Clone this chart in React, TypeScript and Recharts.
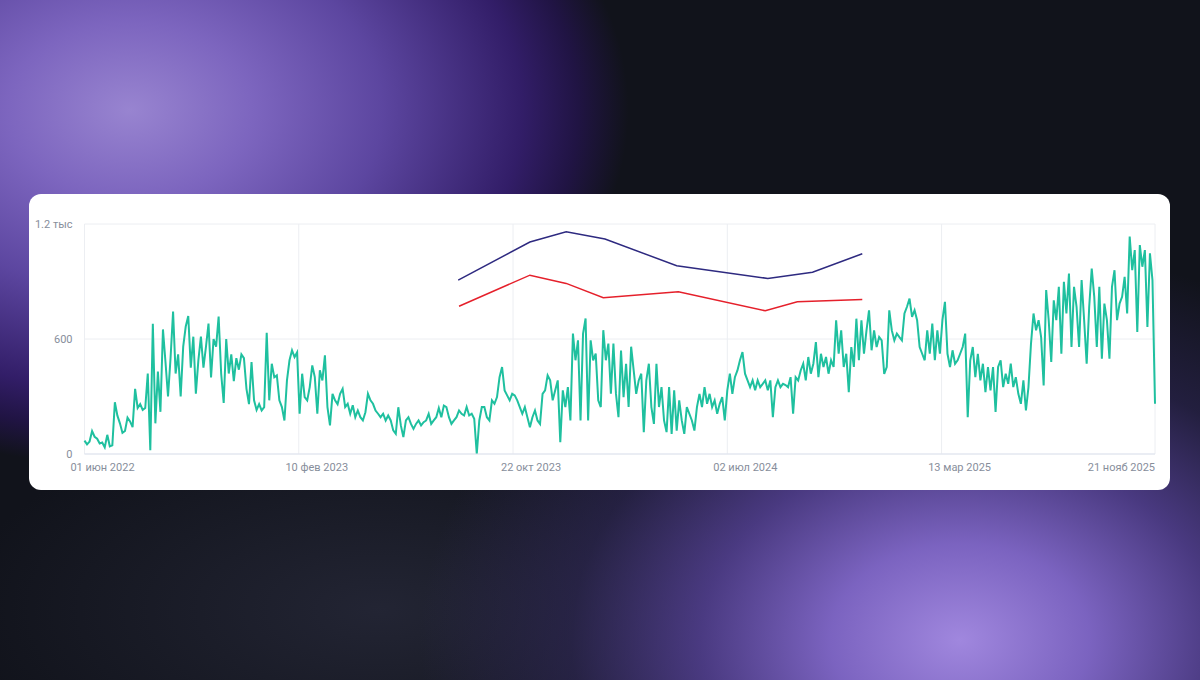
import React from 'react'
import { LineChart, Line, XAxis, YAxis, CartesianGrid } from 'recharts'

// one value every 3 days, starting 01 июн 2022
const STEP_DAYS = 3

const summer2022 = [
  70, 50, 65, 120, 90, 80, 55, 60, 35, 100,
  40, 45, 270, 200, 160, 110, 120, 190, 170, 140,
  340, 240, 260, 230, 240, 420, 20, 680, 160, 430,
  220, 650, 480, 300, 500, 743, 420, 520, 300, 560,
  665, 720, 450, 612, 315, 490, 612, 450, 560, 680,
  400, 600, 560, 717, 420, 266, 600, 420, 520, 380,
  500, 440, 520, 500, 340, 260, 480, 280, 230, 260,
]

const winter2023 = [
  227, 245, 632, 280, 471, 400, 410, 280, 245, 175,
  384, 489, 541, 506, 530, 210, 419, 297, 280, 349,
  462, 401, 210, 437, 384, 515, 245, 149, 314, 280,
  260, 314, 340, 245, 262, 210, 254, 192, 227, 192,
  175, 218, 314, 280, 262, 227, 210, 192, 210, 175,
  201, 175, 123, 105, 244, 149, 88, 175, 192, 157,
  131, 157, 175, 149, 166, 175, 210, 157, 175,
]

const autumn2023 = [
  192, 240, 192, 253, 245, 192, 157, 175, 192, 227,
  210, 201, 245, 201, 210, 184, 0, 175, 245, 245,
  192, 175, 280, 262, 297, 401, 454, 332, 306, 280,
  314, 306, 280, 245, 210, 245, 192, 140, 192, 227,
  175, 157, 314, 332, 410, 384, 280, 332, 384, 61,
  332, 245, 349, 175, 628, 489, 593, 175, 628, 707,
  175, 593, 489, 524, 280, 245, 646, 489, 576,
]

const spring2024 = [
  315, 576, 315, 192, 540, 297, 471, 245, 560, 437,
  314, 384, 419, 114, 384, 471, 245, 157, 471, 245,
  349, 175, 114, 349, 105, 332, 122, 280, 175, 105,
  245, 210, 175, 122, 245, 314, 245, 349, 262, 314,
  245, 280, 210, 262, 297, 175, 332, 419, 314, 401,
  436, 489, 532, 419, 384, 349, 384, 332, 384, 349,
  366, 384, 332, 384, 192, 349, 384, 349, 366, 360,
]

const autumn2024 = [
  349, 401, 210, 401, 384, 436, 471, 384, 506, 419,
  471, 584, 401, 523, 454, 506, 419, 489, 454, 698,
  523, 645, 454, 523, 323, 558, 454, 706, 489, 698,
  523, 645, 750, 541, 645, 558, 610, 593, 418, 454,
  750, 645, 593, 628, 610, 593, 733, 768, 811, 715,
  750, 698, 558, 523, 489, 645, 523, 680, 489, 645,
  523, 698, 794, 523, 454, 541, 471, 489,
]

const year2025 = [
  523, 558, 628, 192, 489, 558, 401, 523, 384, 471,
  323, 454, 332, 454, 219, 454, 489, 349, 419, 366,
  471, 349, 401, 314, 262, 384, 227, 349, 576, 733,
  645, 698, 610, 358, 855, 698, 480, 802, 698, 872,
  523, 898, 733, 941, 558, 872, 768, 558, 907, 698,
  471, 768, 968, 820, 558, 872, 497, 785, 698, 497,
  872, 959, 698, 785, 820, 924, 733, 1134, 959, 1064,
  637, 1090, 977, 1064, 663, 1047, 907, 262,
]

const navyDays = [443, 528, 571, 617, 702, 810, 863, 922]
const navyValues = [907, 1106, 1160, 1122, 982, 916, 948, 1045]

const redDays = [444, 528, 571, 615, 704, 807, 845, 922]
const redValues = [771, 933, 890, 815, 846, 747, 794, 806]

const tickDays = [0, 254, 508, 762, 1016, 1269]
const tickLabels = ['01 июн 2022', '10 фев 2023', '22 окт 2023', '02 июл 2024', '13 мар 2025', '21 нояб 2025']
const yTicks = [0, 600, 1200]

const mainValues = [...summer2022, ...winter2023, ...autumn2023, ...spring2024, ...autumn2024, ...year2025]
const mainData = mainValues.map((v, i) => ({ day: i * STEP_DAYS, value: v }))
const navyData = navyDays.map((d, i) => ({ day: d, navy: navyValues[i] }))
const redData = redDays.map((d, i) => ({ day: d, red: redValues[i] }))

const labelColor = '#878e9b'
const font = 'Roboto, "Noto Sans", sans-serif'

function XTick(props: any) {
  const { x, y, payload } = props
  const idx = tickDays.indexOf(payload.value)
  const last = idx === tickDays.length - 1
  return (
    <text
      x={last ? x : x + 18}
      y={y + 17}
      textAnchor={last ? 'end' : 'middle'}
      fill={labelColor}
      fontSize={11}
      fontFamily={font}
    >
      {tickLabels[idx]}
    </text>
  )
}

function YTick(props: any) {
  const { x, y, payload } = props
  const v = payload.value
  return (
    <text x={x} y={y} dy={4} textAnchor="end" fill={labelColor} fontSize={11} fontFamily={font}>
      {v >= 1000 ? `${v / 1000} тыс` : v}
    </text>
  )
}

// purple glows of the backdrop
const background = [
  'radial-gradient(ellipse 560px 400px at 130px 110px, rgba(152,132,208,1) 0%, rgba(128,104,196,0.97) 22%, rgba(98,74,170,0.93) 45%, rgba(52,30,108,0.95) 70%, rgba(34,20,72,0.9) 80%, rgba(18,20,28,0) 89%)',
  'radial-gradient(ellipse 540px 400px at 960px 640px, rgba(160,135,222,1) 0%, rgba(132,106,206,0.92) 24%, rgba(92,70,162,0.75) 48%, rgba(52,42,98,0.5) 72%, rgba(18,20,28,0) 100%)',
  'radial-gradient(ellipse 420px 200px at 380px 610px, rgba(42,44,62,0.7) 0%, rgba(18,20,28,0) 100%)',
  '#11131b',
].join(', ')

export default function App() {
  return (
    <div style={{ position: 'absolute', left: 0, top: 0, width: 1200, height: 680, background, overflow: 'hidden' }}>
      <div
        style={{
          position: 'absolute',
          left: 29,
          top: 194,
          width: 1141,
          height: 296,
          background: '#ffffff',
          borderRadius: 12,
          overflow: 'hidden',
        }}
      >
        <LineChart width={1141} height={296} data={mainData} margin={{ top: 30, right: 15, bottom: 6, left: 0 }}>
          <CartesianGrid stroke="#eceef2" />
          <XAxis
            dataKey="day"
            type="number"
            domain={[0, 1269]}
            ticks={tickDays}
            interval={0}
            height={30}
            tickSize={0}
            tickMargin={0}
            tickLine={false}
            axisLine={{ stroke: '#dfe3ee' }}
            tick={<XTick />}
          />
          <YAxis
            type="number"
            domain={[0, 1200]}
            ticks={yTicks}
            width={55.5}
            tickSize={0}
            tickMargin={12}
            tickLine={false}
            axisLine={false}
            tick={<YTick />}
          />
          <Line
            dataKey="value"
            type="linear"
            stroke="#1fc09f"
            strokeWidth={2}
            dot={false}
            isAnimationActive={false}
          />
          <Line
            data={navyData}
            dataKey="navy"
            type="linear"
            stroke="#2e2a80"
            strokeWidth={1.5}
            dot={false}
            isAnimationActive={false}
          />
          <Line
            data={redData}
            dataKey="red"
            type="linear"
            stroke="#e5202b"
            strokeWidth={1.5}
            dot={false}
            isAnimationActive={false}
          />
        </LineChart>
      </div>
    </div>
  )
}
